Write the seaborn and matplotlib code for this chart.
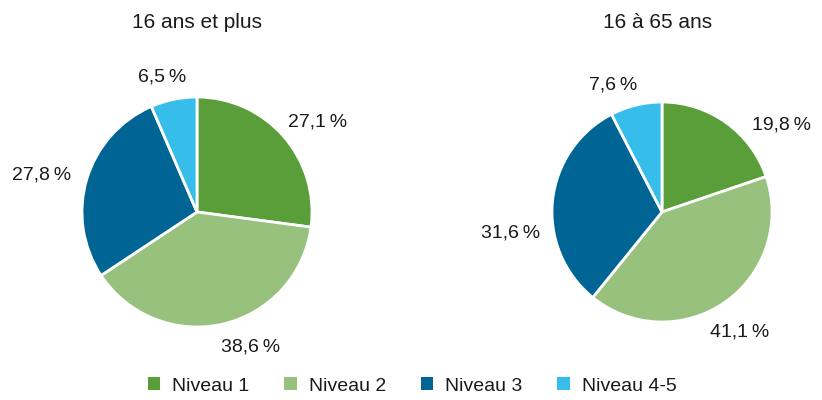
import matplotlib
matplotlib.use("Agg")
import matplotlib.pyplot as plt
from matplotlib.patches import Patch
import seaborn as sns

sns.set_theme(style="white")
plt.rcParams['font.family'] = ['Liberation Sans', 'DejaVu Sans']

# data
niveaux = ["Niveau 1", "Niveau 2", "Niveau 3", "Niveau 4-5"]
vals_16plus = [27.1, 38.6, 27.8, 6.5]
vals_16_65 = [19.8, 41.1, 31.6, 7.6]
titres = ["16 ans et plus", "16 à 65 ans"]
couleurs = ["#5a9e3a", "#97c17c", "#006595", "#36bdea"]

# label placement (pie radius units)
pos_16plus = [(1.05, 0.78), (0.47, -1.17), (-1.35, 0.32), (-0.30, 1.17)]
pos_16_65 = [(1.09, 0.79), (0.71, -1.09), (-1.38, -0.19), (-0.44, 1.15)]

fig = plt.figure(figsize=(8.22, 4.0), dpi=100)


def pie(ax, vals, positions):
    labels = [f"{v:.1f}".replace(".", ",") + "\u2009%" for v in vals]
    wedges, texts = ax.pie(vals, colors=couleurs, startangle=90, counterclock=False,
                           labels=labels,
                           wedgeprops=dict(edgecolor="white", linewidth=2),
                           textprops=dict(fontsize=14, color="#1a1a1a"))
    for t, p in zip(texts, positions):
        t.set_position(p)
        t.set_ha("center")
        t.set_va("center")
    ax.set_xlim(-1, 1)
    ax.set_ylim(-1, 1)
    ax.set_aspect("equal")
    ax.axis("off")


ax1 = fig.add_axes([82 / 822, 73 / 400, 230 / 822, 230 / 400])
pie(ax1, vals_16plus, pos_16plus)
ax2 = fig.add_axes([552 / 822, 78 / 400, 220 / 822, 220 / 400])
pie(ax2, vals_16_65, pos_16_65)

fig.text(197 / 822, 1 - 22 / 400, titres[0], ha="center", va="center", fontsize=15, color="#1a1a1a")
fig.text(658 / 822, 1 - 22 / 400, titres[1], ha="center", va="center", fontsize=15, color="#1a1a1a")

handles = [Patch(facecolor=c, edgecolor="none") for c in couleurs]
fig.legend(handles, niveaux, loc="center", bbox_to_anchor=(412 / 822, 1 - 386 / 400),
           ncol=4, frameon=False, fontsize=14, handlelength=0.65, handleheight=0.65,
           columnspacing=1.8, handletextpad=0.6, labelcolor="#1a1a1a")

fig.savefig("out.png", dpi=100)
